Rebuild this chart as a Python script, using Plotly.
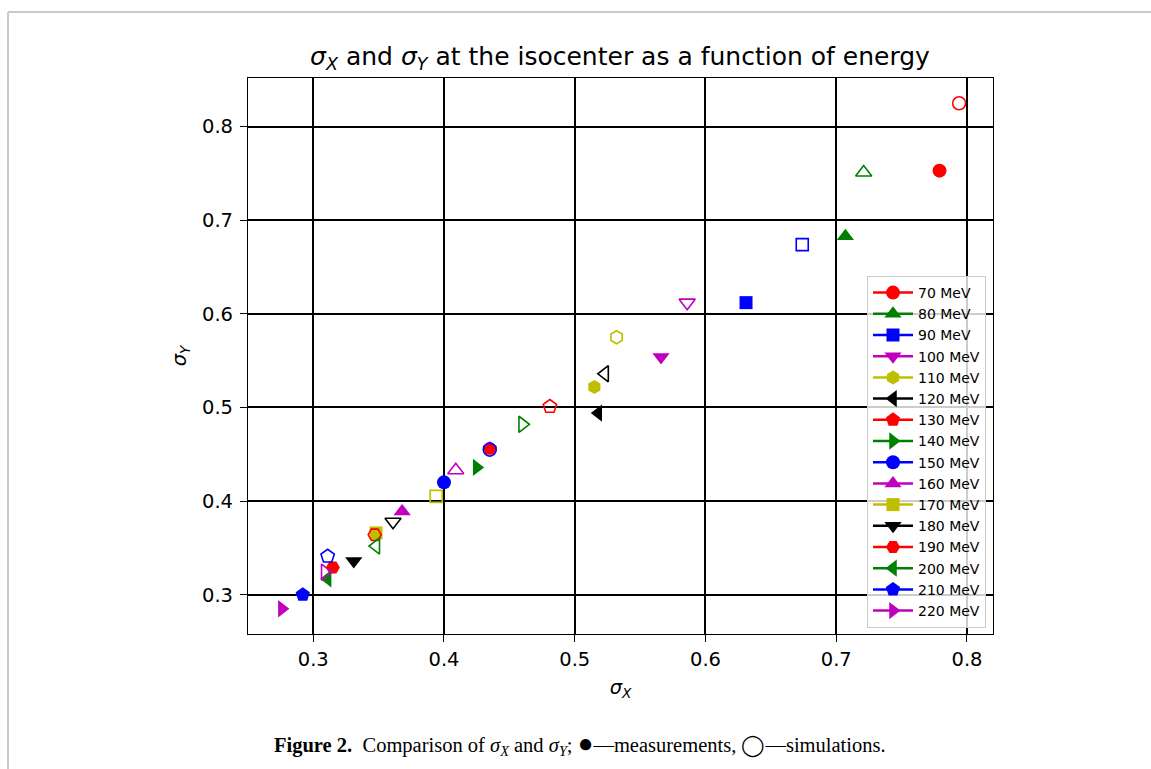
import plotly.graph_objects as go

energies = [70, 80, 90, 100, 110, 120, 130, 140, 150, 160, 170, 180, 190, 200, 210, 220]
meas_x = [0.779, 0.707, 0.631, 0.566, 0.515, 0.518, 0.435, 0.425, 0.400, 0.368, 0.348, 0.331, 0.315, 0.311, 0.292, 0.276]
meas_y = [0.753, 0.683, 0.612, 0.554, 0.522, 0.494, 0.456, 0.436, 0.420, 0.389, 0.366, 0.336, 0.329, 0.317, 0.300, 0.285]
sim_x = [0.794, 0.721, 0.674, 0.586, 0.532, 0.523, 0.481, 0.460, 0.435, 0.409, 0.394, 0.361, 0.347, 0.348, 0.311, 0.309]
sim_y = [0.825, 0.751, 0.674, 0.612, 0.575, 0.536, 0.501, 0.482, 0.455, 0.433, 0.405, 0.378, 0.364, 0.352, 0.341, 0.324]

color_cycle = ['#ff0000', '#008000', '#0000ff', '#bf00bf', '#bfbf00', '#000000']
symbols = ['circle', 'triangle-up', 'square', 'triangle-down', 'hexagon', 'triangle-left',
           'pentagon', 'triangle-right', 'circle', 'triangle-up', 'square', 'triangle-down',
           'hexagon2', 'triangle-left', 'pentagon', 'triangle-right']
sym_size = {'circle': 14, 'triangle-up': 15, 'triangle-down': 15, 'triangle-left': 15,
            'triangle-right': 15, 'square': 13, 'hexagon': 14, 'hexagon2': 14, 'pentagon': 15}

tick_vals = [0.3, 0.4, 0.5, 0.6, 0.7, 0.8]
tick_text = ['0.3', '0.4', '0.5', '0.6', '0.7', '0.8']

FONT = 'DejaVu Sans'
TICK_SIZE = 19.5

fig = go.Figure()

# legend entries
for i, e in enumerate(energies):
    c = color_cycle[i % len(color_cycle)]
    s = symbols[i]
    fig.add_trace(go.Scatter(
        x=[None], y=[None], mode='lines+markers', name=f'{e} MeV',
        legendgroup=str(e),
        line=dict(color=c, width=2.5),
        marker=dict(symbol=s, size=sym_size[s], color=c),
    ))

# data
for i, e in enumerate(energies):
    c = color_cycle[i % len(color_cycle)]
    s = symbols[i]
    fig.add_trace(go.Scatter(
        x=[meas_x[i]], y=[meas_y[i]], mode='markers', showlegend=False,
        marker=dict(symbol=s, size=sym_size[s], color=c, line=dict(width=0)),
        hoverinfo='skip',
    ))
    fig.add_trace(go.Scatter(
        x=[sim_x[i]], y=[sim_y[i]], mode='markers', showlegend=False,
        marker=dict(symbol=s + '-open', size=sym_size[s] - 1, color=c, line=dict(width=1.6, color=c)),
        hoverinfo='skip',
    ))

allx = meas_x + sim_x
ally = meas_y + sim_y
dx = (max(allx) - min(allx)) * 0.05
dy = (max(ally) - min(ally)) * 0.05
xr = [min(allx) - dx, max(allx) + dx]
yr = [min(ally) - dy, max(ally) + dy]

L, R, T, B = 248, 158, 78, 135
W, H = 1151, 769
pw, ph = W - L - R, H - T - B


def px_to_paper_x(px):
    return (px - L) / pw


def px_to_paper_y(py):
    return (H - B - py) / ph


axis_common = dict(
    showgrid=True, gridcolor='black', gridwidth=1.8,
    showline=True, linecolor='black', linewidth=1.2, mirror=True,
    ticks='outside', ticklen=7, tickwidth=1.2, tickcolor='black',
    tickfont=dict(family=FONT, size=TICK_SIZE, color='black'),
    zeroline=False, tickvals=tick_vals, ticktext=tick_text,
)

fig.update_layout(
    width=W, height=H, autosize=False,
    margin=dict(l=L, r=R, t=T, b=B),
    paper_bgcolor='white', plot_bgcolor='white',
    font=dict(family=FONT, color='black'),
    title=dict(
        text='<i>σ</i><sub><i>X</i></sub> and <i>σ</i><sub><i>Y</i></sub> at the isocenter as a function of energy',
        x=620 / W, xref='container', xanchor='center',
        y=(H - 65) / H, yref='container', yanchor='bottom',
        font=dict(family=FONT, size=25, color='black'),
    ),
    xaxis=dict(range=xr, title=dict(text='<i>σ</i><sub><i>X</i></sub>', standoff=10,
                                    font=dict(family=FONT, size=TICK_SIZE, color='black')), **axis_common),
    yaxis=dict(range=yr, title=dict(text='<i>σ</i><sub><i>Y</i></sub>', standoff=10,
                                    font=dict(family=FONT, size=TICK_SIZE, color='black')),
               ticklabelstandoff=3, **axis_common),
    legend=dict(
        x=px_to_paper_x(986), xanchor='right',
        y=px_to_paper_y(628), yanchor='bottom',
        bgcolor='rgba(255,255,255,0.8)', bordercolor='#cccccc', borderwidth=1,
        font=dict(family=FONT, size=14, color='black'),
        traceorder='grouped', tracegroupgap=0, itemwidth=40,
    ),
    shapes=[
        dict(type='line', xref='paper', yref='paper',
             x0=px_to_paper_x(8), x1=px_to_paper_x(1151), y0=px_to_paper_y(12), y1=px_to_paper_y(12),
             line=dict(color='#c8c8c8', width=2)),
        dict(type='line', xref='paper', yref='paper',
             x0=px_to_paper_x(8), x1=px_to_paper_x(8), y0=px_to_paper_y(12), y1=px_to_paper_y(769),
             line=dict(color='#c8c8c8', width=2)),
    ],
    annotations=[
        dict(
            text='<b>Figure 2.</b>\u00a0\u00a0Comparison of <i>σ</i><sub><i>X</i></sub> and <i>σ</i><sub><i>Y</i></sub>; '
                 '<span style="font-size:26px">●</span>—measurements, ◯—simulations.',
            xref='paper', yref='paper', x=px_to_paper_x(580), y=px_to_paper_y(744),
            xanchor='center', yanchor='middle', showarrow=False,
            font=dict(family='Liberation Serif', size=20.5, color='black'),
        )
    ],
)

fig.write_html('out.html')
